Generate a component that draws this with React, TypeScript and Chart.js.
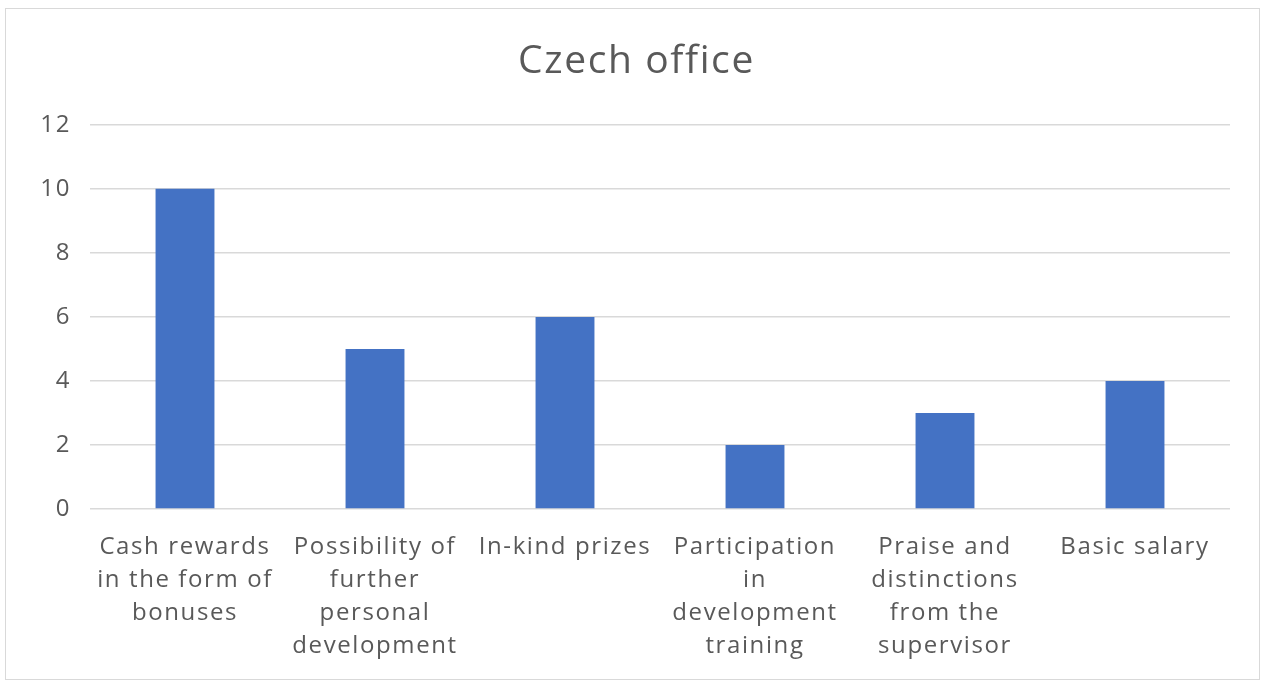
import React, { useEffect, useRef } from "react";
import { Chart, registerables } from "chart.js";

Chart.register(...registerables);

const categories: string[][] = [
  ["Cash rewards", "in the form of", "bonuses"],
  ["Possibility of", "further", "personal", "development"],
  ["In-kind prizes"],
  ["Participation", "in", "development", "training"],
  ["Praise and", "distinctions", "from the", "supervisor"],
  ["Basic salary"],
];
const values: number[] = [10, 5, 6, 2, 3, 4];
const titleText = "Czech office";
const yMin = 0;
const yMax = 12;
const yStep = 2;

const spacingPlugin = {
  id: "letterSpacing",
  beforeDraw(chart: any) {
    chart.ctx.letterSpacing = "1.6px";
  },
  afterDraw(chart: any) {
    chart.ctx.letterSpacing = "0px";
  },
};

export default function App() {
  const ref = useRef<HTMLCanvasElement | null>(null);
  useEffect(() => {
    document.body.style.margin = "0";
    const ctx = ref.current;
    if (!ctx) return;
    const chart = new Chart(ctx, {
      type: "bar",
      data: {
        labels: categories,
        datasets: [
          {
            data: values,
            backgroundColor: "#4472C4",
            barPercentage: 0.31,
            categoryPercentage: 1,
            yAxisID: "y",
          },
        ],
      },
      plugins: [spacingPlugin],
      options: {
        animation: false,
        responsive: false,
        maintainAspectRatio: false,
        layout: { padding: { left: 8, right: 0, top: 0, bottom: 0 } },
        plugins: {
          legend: { display: false },
          tooltip: { enabled: false },
          title: {
            display: true,
            text: titleText,
            color: "#595959",
            font: { family: "'Open Sans'", size: 39, weight: "normal", lineHeight: 1.2 },
            padding: { top: 29, bottom: 40 },
          },
        },
        scales: {
          x: {
            grid: { display: false },
            border: { display: false },
            ticks: {
              color: "#595959",
              font: { family: "'Open Sans'", size: 24, lineHeight: 1.375 },
              maxRotation: 0,
              autoSkip: false,
              padding: 14,
            },
            afterFit: (scale: any) => {
              scale.height = 170;
            },
          },
          y: {
            min: yMin,
            max: yMax,
            grid: { color: "#d9d9d9", lineWidth: 1.6, drawTicks: false },
            border: { display: false },
            ticks: {
              stepSize: yStep,
              color: "#595959",
              font: { family: "'Open Sans'", size: 24 },
              padding: 19,
            },
            afterFit: (scale: any) => {
              scale.width = 76;
            },
          },
          y2: {
            position: "right",
            display: true,
            grid: { display: false, drawTicks: false },
            border: { display: false },
            ticks: { display: false },
            afterFit: (scale: any) => {
              scale.width = 29;
            },
          },
        },
      },
    });
    return () => chart.destroy();
  }, []);
  return (
    <div style={{ position: "fixed", left: 0, top: 0, width: 1266, height: 681, background: "#fff" }}>
      <div
        style={{
          position: "absolute",
          left: 5,
          top: 8,
          width: 1253,
          height: 670,
          border: "1px solid #d9d9d9",
        }}
      >
        <canvas ref={ref} width={1253} height={670} style={{ display: "block" }} />
      </div>
    </div>
  );
}
